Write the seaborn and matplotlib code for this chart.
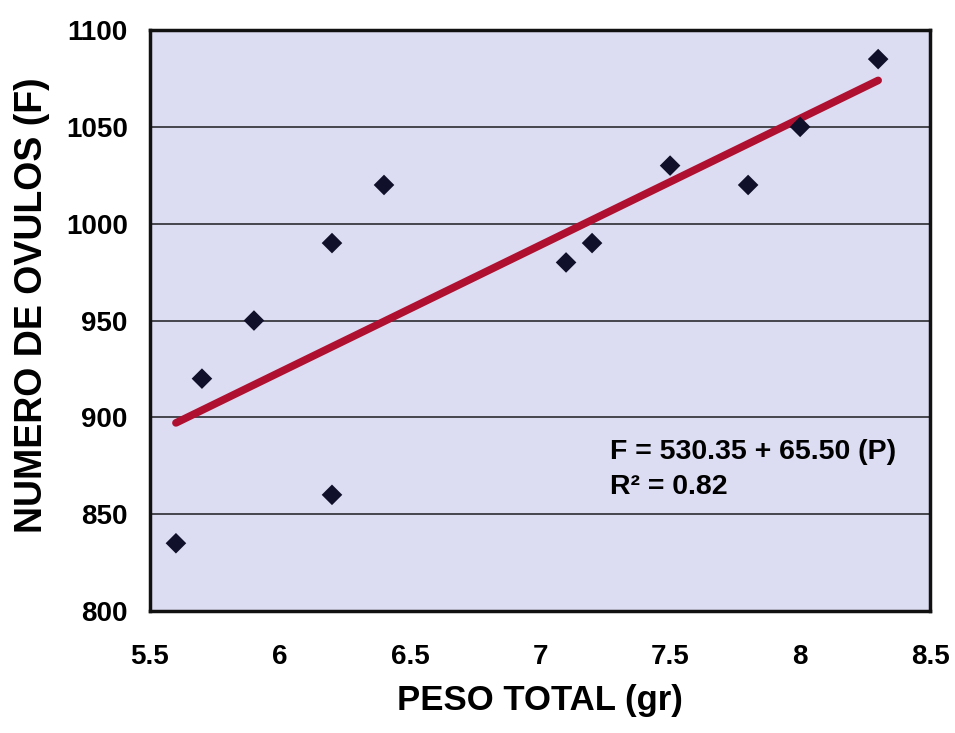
import matplotlib
matplotlib.use("Agg")
import matplotlib.pyplot as plt
import seaborn as sns
import numpy as np
import pandas as pd

# Data
peso = [5.6, 5.7, 5.9, 6.2, 6.2, 6.4, 7.1, 7.2, 7.5, 7.8, 8.0, 8.3]
ovulos = [835, 920, 950, 990, 860, 1020, 980, 990, 1030, 1020, 1050, 1085]
intercept = 530.35
slope = 65.50
r2 = 0.82
xticks = [5.5, 6, 6.5, 7, 7.5, 8, 8.5]
xtick_labels = ["5.5", "6", "6.5", "7", "7.5", "8", "8.5"]
yticks = [800, 850, 900, 950, 1000, 1050, 1100]

df = pd.DataFrame({"peso": peso, "ovulos": ovulos})
xfit = np.array([min(peso), max(peso)])
fit = pd.DataFrame({"peso": xfit, "ovulos": intercept + slope * xfit})

sns.set_theme(style="white")
plt.rcParams["font.family"] = ["Liberation Sans", "DejaVu Sans"]
plt.rcParams["text.color"] = "black"
plt.rcParams["axes.labelcolor"] = "black"
plt.rcParams["xtick.color"] = "black"
plt.rcParams["ytick.color"] = "black"

fig = plt.figure(figsize=(9.55, 7.33), dpi=100)
ax = fig.add_axes([0.157, 0.1664, 0.817, 0.7926])
ax.set_facecolor("#dcdcf2")

for y in yticks[1:-1]:
    ax.axhline(y, color="#3a3a40", lw=1.3, zorder=1)

sns.lineplot(data=fit, x="peso", y="ovulos", ax=ax, color="#b01030",
             lw=5.5, zorder=3, solid_capstyle="round")
sns.scatterplot(data=df, x="peso", y="ovulos", ax=ax, marker="D", s=110,
                color="#10102a", edgecolor="none", zorder=4)

ax.set_xlim(5.5, 8.5)
ax.set_ylim(800, 1100)
ax.set_xticks(xticks)
ax.set_xticklabels(xtick_labels)
ax.set_yticks(yticks)

for s in ax.spines.values():
    s.set_color("#111111")
    s.set_linewidth(2.5)

ax.tick_params(axis="y", direction="out", length=8, width=1.3, color="#3a3a40",
               labelcolor="black", labelsize=20, pad=8)
ax.tick_params(axis="x", direction="out", length=3, width=2, color="#333333",
               labelcolor="black", labelsize=20, pad=21)
for lab in ax.get_xticklabels() + ax.get_yticklabels():
    lab.set_fontweight("bold")

ax.set_xlabel("PESO TOTAL (gr)", fontsize=25, fontweight="bold", labelpad=10,
              color="black")
ax.set_ylabel("NUMERO DE OVULOS (F)", fontsize=27, fontweight="bold",
              color="black")
ax.yaxis.set_label_coords(-0.128, 0.527)

ax.text(7.27, 889, "F = 530.35 + 65.50 (P)\nR² = 0.82", fontsize=20.5,
        fontweight="bold", va="top", ha="left", linespacing=1.45, zorder=5,
        color="black")

fig.savefig("out.png", dpi=100, facecolor="white")
